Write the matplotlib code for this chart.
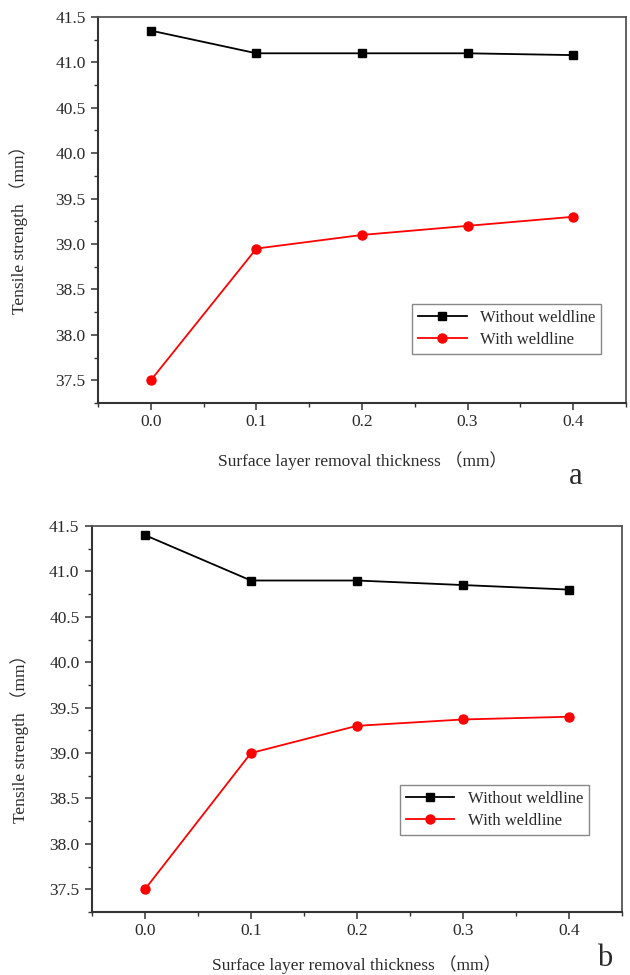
import matplotlib
matplotlib.use("Agg")
import matplotlib.pyplot as plt
from matplotlib.ticker import MultipleLocator

# thickness of removed surface layer (mm)
thickness = [0.0, 0.1, 0.2, 0.3, 0.4]

# panel a
a_without = [41.35, 41.10, 41.10, 41.10, 41.08]
a_with = [37.50, 38.95, 39.10, 39.20, 39.30]

# panel b
b_without = [41.40, 40.90, 40.90, 40.85, 40.80]
b_with = [37.50, 39.00, 39.30, 39.37, 39.40]

yticks = [37.5, 38.0, 38.5, 39.0, 39.5, 40.0, 40.5, 41.0, 41.5]
xticks = [0.0, 0.1, 0.2, 0.3, 0.4]

plt.rcParams["font.family"] = ["Liberation Serif", "Noto Sans CJK SC"]
TXT = "#2a2a2a"

fig = plt.figure(figsize=(6.3, 9.75), dpi=100)
ax_a = fig.add_axes([0.1556, 0.5867, 0.838, 0.3959])
ax_b = fig.add_axes([0.146, 0.0646, 0.841, 0.3959])


def draw_panel(ax, without, with_, leg_anchor, ylab_x, xlab_y):
    ax.plot(thickness, without, color="black", marker="s", markersize=5.5,
            linewidth=1.3, label="Without weldline")
    ax.plot(thickness, with_, color="red", marker="o", markersize=6.5,
            linewidth=1.3, label="With weldline")
    ax.set_xlim(-0.05, 0.45)
    ax.set_ylim(37.25, 41.5)
    ax.set_xticks(xticks)
    ax.set_xticklabels([f"{v:.1f}" for v in xticks])
    ax.set_yticks(yticks)
    ax.set_yticklabels([f"{v:.1f}" for v in yticks])
    ax.xaxis.set_minor_locator(MultipleLocator(0.05))
    ax.yaxis.set_minor_locator(MultipleLocator(0.25))
    ax.tick_params(which="major", direction="out", length=5, width=1.1,
                   labelsize=12.5, labelcolor=TXT, color="#333333")
    ax.tick_params(which="minor", direction="out", length=3, width=1.0,
                   color="#333333")
    ax.tick_params(axis="x", pad=3)
    ax.tick_params(axis="y", pad=4)
    for side in ["left", "bottom"]:
        ax.spines[side].set_linewidth(1.5)
        ax.spines[side].set_color("#333333")
    for side in ["top", "right"]:
        ax.spines[side].set_linewidth(1.3)
        ax.spines[side].set_color("#555555")
    ax.set_ylabel("Tensile strength （mm）", fontsize=12.5, color=TXT)
    ax.yaxis.set_label_coords(ylab_x, 0.46)
    ax.set_xlabel("Surface layer removal thickness （mm）", fontsize=12.5, color=TXT)
    ax.xaxis.set_label_coords(0.5, xlab_y)
    leg = ax.legend(loc="upper right", bbox_to_anchor=leg_anchor, fontsize=12,
                    fancybox=False, framealpha=1, edgecolor="#888888",
                    handlelength=2.9, handletextpad=0.8, borderpad=0.35,
                    labelspacing=0.35, borderaxespad=0)
    leg.get_frame().set_linewidth(1.0)
    for t in leg.get_texts():
        t.set_color(TXT)


draw_panel(ax_a, a_without, a_with, (0.953, 0.256), -0.133, -0.125)
draw_panel(ax_b, b_without, b_with, (0.938, 0.329), -0.119, -0.113)

fig.text(0.913, 0.511, "a", fontsize=22, ha="center", va="center", color=TXT)
fig.text(0.960, 0.017, "b", fontsize=22, ha="center", va="center", color=TXT)

fig.savefig("out.png", dpi=100)
